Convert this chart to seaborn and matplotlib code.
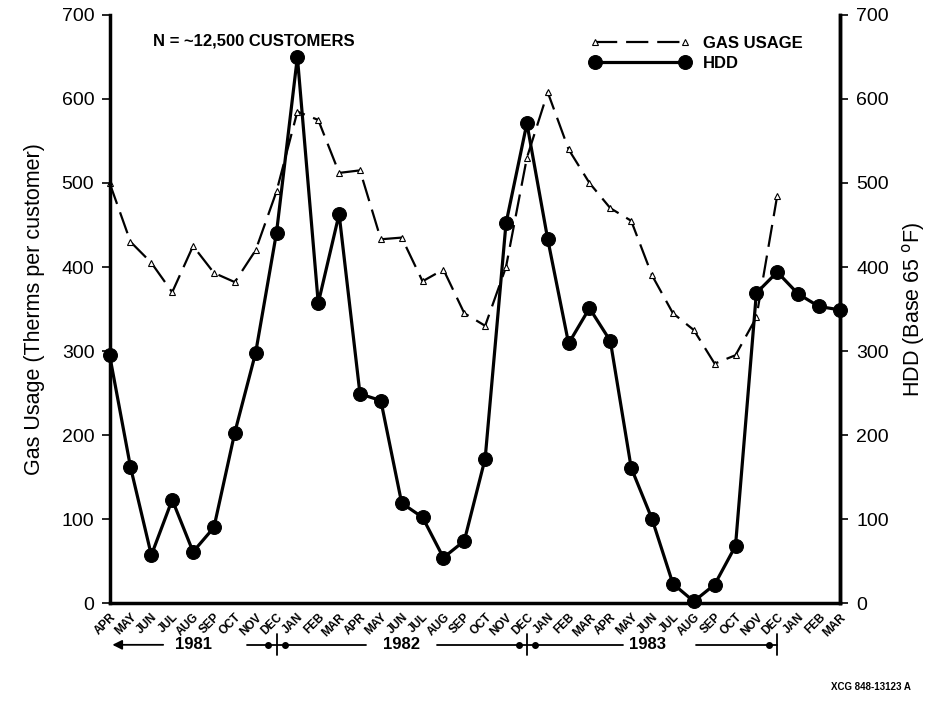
import matplotlib
matplotlib.use('Agg')
import matplotlib.pyplot as plt
import matplotlib.transforms as mtransforms
import seaborn as sns
import pandas as pd

# Month labels Apr 1981 .. Mar 1984
months = ['APR', 'MAY', 'JUN', 'JUL', 'AUG', 'SEP', 'OCT', 'NOV', 'DEC', 'JAN', 'FEB', 'MAR',
          'APR', 'MAY', 'JUN', 'JUL', 'AUG', 'SEP', 'OCT', 'NOV', 'DEC', 'JAN', 'FEB', 'MAR',
          'APR', 'MAY', 'JUN', 'JUL', 'AUG', 'SEP', 'OCT', 'NOV', 'DEC', 'JAN', 'FEB', 'MAR']

# Heating degree days (base 65 F)
hdd = [295, 162, 57, 123, 61, 90, 203, 298, 441, 650, 357, 463,
       249, 241, 119, 102, 54, 74, 172, 452, 571, 433, 309, 351,
       312, 161, 100, 23, 2, 22, 68, 369, 394, 368, 353, 349]

# Gas usage (therms per customer), Apr 1981 .. Dec 1983
gas = [500, 430, 405, 370, 425, 393, 382, 420, 490, 585, 575, 512,
       515, 433, 435, 383, 397, 345, 330, 400, 530, 608, 540, 500,
       470, 455, 390, 345, 325, 285, 295, 340, 485]

years = ['1981', '1982', '1983']

hdd_df = pd.DataFrame({'month': range(len(hdd)), 'value': hdd})
gas_df = pd.DataFrame({'month': range(len(gas)), 'value': gas})

sns.set_style('ticks')
plt.rcParams['font.family'] = ['Liberation Sans', 'DejaVu Sans']
for key in ['text.color', 'axes.labelcolor', 'xtick.color', 'ytick.color', 'axes.edgecolor']:
    plt.rcParams[key] = 'black'

fig = plt.figure(figsize=(9.29, 7.12), dpi=100)
ax = fig.add_axes([0.118, 0.153, 0.786, 0.826])

sns.lineplot(data=gas_df, x='month', y='value', ax=ax, color='black', lw=1.6,
             marker='^', markersize=5, markerfacecolor='white', markeredgecolor='black',
             markeredgewidth=0.8, label='GAS USAGE')
ax.lines[-1].set_dashes((10, 4))
sns.lineplot(data=hdd_df, x='month', y='value', ax=ax, color='black', lw=2.3,
             marker='o', markersize=10, markeredgecolor='black', label='HDD')
for ln in ax.lines:
    ln.set_clip_on(False)

ax.set_xlim(0, len(hdd) - 1)
ax.set_ylim(0, 700)
ax.set_yticks(range(0, 701, 100))
ax.set_xticks(range(len(months)))
ax.set_xticklabels(months, rotation=45, ha='right', rotation_mode='anchor',
                   fontsize=8.5, fontweight='bold')
ax.tick_params(axis='x', length=0, pad=6)
ax.tick_params(axis='y', labelsize=14, length=6, width=1.2, pad=5)
ax.set_xlabel('')
ax.set_ylabel('Gas Usage (Therms per customer)', fontsize=15.5, labelpad=12)

for side in ['left', 'bottom', 'right']:
    ax.spines[side].set_linewidth(2.5)
ax.spines['top'].set_visible(False)

# right axis with same scale
ax2 = ax.twinx()
ax2.set_ylim(0, 700)
ax2.set_yticks(range(0, 701, 100))
ax2.tick_params(axis='y', labelsize=14, length=6, width=1.2, pad=6)
ax2.set_ylabel('HDD (Base 65 $^{\\mathrm{o}}$F)', fontsize=15.5, labelpad=8)
for side in ['top', 'left', 'bottom']:
    ax2.spines[side].set_visible(False)
ax2.spines['right'].set_linewidth(2.5)

leg = ax.legend(loc='upper right', bbox_to_anchor=(0.97, 0.99), frameon=False,
                numpoints=2, handlelength=6, prop={'weight': 'bold', 'size': 12},
                labelspacing=0.3)

ax.text(0.06, 0.955, 'N = ~12,500 CUSTOMERS', transform=ax.transAxes,
        fontsize=12, fontweight='bold', va='center')

# year spans under the month labels
trans = mtransforms.blended_transform_factory(ax.transData, ax.transAxes)
yy = -0.071
kw = dict(transform=trans, color='black', lw=1.3, clip_on=False)
ax.annotate('', xy=(0, yy), xytext=(2.7, yy), xycoords=trans, textcoords=trans,
            arrowprops=dict(arrowstyle='-|>', color='black', lw=1.3, mutation_scale=14),
            annotation_clip=False)
ax.plot([6.6, 8], [yy, yy], **kw)
ax.plot([8, 12.3], [yy, yy], **kw)
ax.plot([15.7, 20], [yy, yy], **kw)
ax.plot([20, 24.6], [yy, yy], **kw)
ax.plot([28.1, 32], [yy, yy], **kw)
for xd in [8, 20, 32]:
    ax.plot([xd, xd], [yy - 0.018, yy + 0.018], **kw)
for xd in [7.6, 8.4, 19.6, 20.4, 31.6]:
    ax.plot([xd], [yy], marker='o', markersize=4, color='black', transform=trans, clip_on=False)
for xt, lab in zip([4.0, 14.0, 25.8], years):
    ax.text(xt, yy, lab, transform=trans, ha='center', va='center', fontsize=12,
            fontweight='bold')

fig.text(0.98, 0.035, 'XCG 848-13123 A', ha='right', va='center', fontsize=7, fontweight='bold')

fig.savefig('out.png', dpi=100, facecolor='white')
